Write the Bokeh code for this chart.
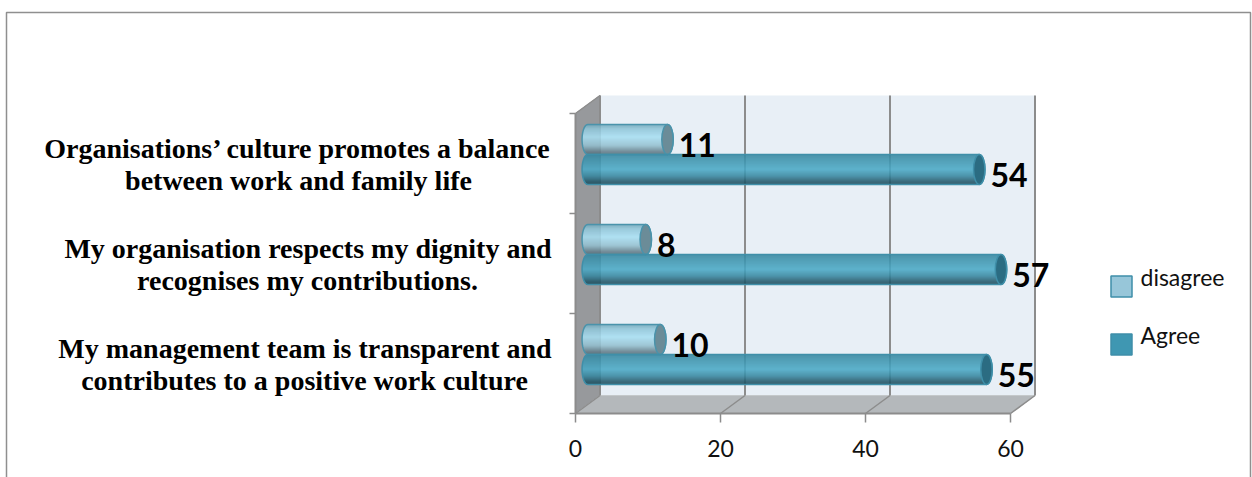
import numpy as np
from bokeh.core.properties import value
from bokeh.embed import file_html
from bokeh.models import FixedTicker, LinearAxis, Range1d
from bokeh.plotting import figure
from bokeh.resources import INLINE

# Statements from bottom to top, each split over its two printed lines
category_lines = [
    ["My management team is transparent and", "contributes to a positive work culture"],
    ["My organisation respects my dignity and", "recognises my contributions."],
    ["Organisations\u2019 culture promotes a balance", "between work and family life"],
]
label_centres = [(304.5, 304), (307.5, 307), (297.5, 298)]
agree = [55, 57, 54]
disagree = [10, 8, 11]
x_ticks = [0, 20, 40, 60]

W, H = 1252, 477
PX_PER_UNIT_X = 7.25
PX_PER_UNIT_Y = 100.0
ORIGIN_X, ORIGIN_Y = 575.0, 413.0
DEPTH_X = 24.5 / PX_PER_UNIT_X
DEPTH_Y = 18.0 / PX_PER_UNIT_Y


def dx(px):
    return (px - ORIGIN_X) / PX_PER_UNIT_X


def dy(py):
    return (ORIGIN_Y - py) / PX_PER_UNIT_Y


p = figure(
    width=W, height=H, output_backend="svg", toolbar_location=None,
    x_range=Range1d(dx(0), dx(W)), y_range=Range1d(dy(H), dy(0)),
    x_axis_type=None, y_axis_type=None, min_border=0,
)
p.grid.visible = False
p.outline_line_color = None
p.background_fill_color = "white"

# Outer frame of the chart area
p.line([dx(6), dx(6), dx(1250), dx(1250)], [dy(477), dy(12), dy(12), dy(477)],
       line_color="#8f8f8f", line_width=1.5)

# 3D box: back wall, side wall and floor
x_max, n_cat = x_ticks[-1], len(category_lines)
p.patch([DEPTH_X, x_max + DEPTH_X, x_max + DEPTH_X, DEPTH_X],
        [DEPTH_Y, DEPTH_Y, n_cat + DEPTH_Y, n_cat + DEPTH_Y], fill_color="#e8eff6", line_color=None)
p.patch([0, DEPTH_X, DEPTH_X, 0], [0, DEPTH_Y, n_cat + DEPTH_Y, n_cat],
        fill_color="#97999c", line_color="#a5a7a9", line_width=1)
p.patch([0, DEPTH_X, x_max + DEPTH_X, x_max], [0, DEPTH_Y, DEPTH_Y, 0],
        fill_color="#b4b8bb", line_color="#c4c8ca", line_width=1)

# Gridlines run up the back wall and across the floor
for t in x_ticks:
    p.line([t + DEPTH_X, t + DEPTH_X], [DEPTH_Y, n_cat + DEPTH_Y], line_color="#8c8c8c", line_width=2)
    p.line([t, t + DEPTH_X], [0, DEPTH_Y], line_color="#8c8c8c", line_width=1.5)
p.line([0, DEPTH_X], [n_cat, n_cat + DEPTH_Y], line_color="#8c8c8c", line_width=1.5)

x_axis = LinearAxis(fixed_location=0, ticker=FixedTicker(ticks=x_ticks), bounds=(0, x_max))
x_axis.axis_line_color = "#8c8c8c"
x_axis.axis_line_width = 2
x_axis.major_tick_line_color = "#8c8c8c"
x_axis.major_tick_line_width = 1.5
x_axis.major_tick_out = 9
x_axis.major_tick_in = 0
x_axis.minor_tick_line_color = None
x_axis.major_label_text_font = "Lato"
x_axis.major_label_text_font_size = "23px"
x_axis.major_label_text_color = "#111111"
x_axis.major_label_standoff = 17
p.add_layout(x_axis, "below")

# Category axis: a line along the front edge of the side wall with outward ticks
p.line([0, 0], [0, n_cat], line_color="#8c8c8c", line_width=2)
cat_edges = np.arange(n_cat + 1)
p.segment(x0=np.full(n_cat + 1, dx(ORIGIN_X - 6)), y0=cat_edges, x1=np.zeros(n_cat + 1), y1=cat_edges,
          line_color="#8c8c8c", line_width=1.5)


def shade(stops, t):
    """Colour at position t (0 top, 1 bottom) along a vertical shading ramp."""
    pos = [s[0] for s in stops]
    rgb = np.array([[int(s[1][i:i + 2], 16) for i in (1, 3, 5)] for s in stops], dtype=float)
    c = [np.interp(t, pos, rgb[:, k]) for k in range(3)]
    return "#%02x%02x%02x" % tuple(int(round(v)) for v in c)


AGREE_RAMP = [(0, "#35869f"), (0.18, "#3d93ad"), (0.5, "#4aa9c6"), (0.72, "#37879f"), (0.9, "#22596b"), (1, "#1d4a5a")]
DISAGREE_RAMP = [(0, "#6fa5b8"), (0.15, "#8fc5d8"), (0.42, "#a7def2"), (0.7, "#94c0d0"), (0.9, "#64808c"), (1, "#566f7a")]

BAR_H = 0.30
CAP_RX = 5.7 / PX_PER_UNIT_X
DEPTH_MID_X = DEPTH_X / 2
DEPTH_MID_Y = DEPTH_Y / 2
N_BANDS = 30


def cylinder(val, yc, ramp, cap_color, edge):
    x0 = DEPTH_MID_X
    x1 = DEPTH_MID_X + val
    band_h = BAR_H / N_BANDS
    for k in range(N_BANDS):
        t = (k + 0.5) / N_BANDS
        bulge = CAP_RX * np.sqrt(max(0.0, 1 - (2 * t - 1) ** 2))
        y = yc + BAR_H / 2 - t * BAR_H
        p.hbar(y=[y], height=band_h * 1.25, left=[x0 - bulge], right=[x1 + bulge],
               fill_color=shade(ramp, t), fill_alpha=1.0, line_color=None)
    a = np.linspace(-np.pi / 2, np.pi / 2, 24)
    ox = np.concatenate([x1 + CAP_RX * np.cos(a), x0 - CAP_RX * np.cos(a[::-1])])
    oy = np.concatenate([yc + BAR_H / 2 * np.sin(a), yc + BAR_H / 2 * np.sin(a[::-1])])
    p.patch(ox, oy, fill_color=None, line_color=edge, line_width=1.5)
    p.ellipse(x=[x1], y=[yc], width=2 * CAP_RX, height=BAR_H,
              fill_color=cap_color, fill_alpha=1.0, line_color=edge, line_width=1.5)


VALUE_FONT = value("Lato")
for i in range(n_cat):
    yc = i + 0.5 + DEPTH_MID_Y
    y_dis, y_agr = yc + BAR_H / 2, yc - BAR_H / 2
    cylinder(disagree[i], y_dis, DISAGREE_RAMP, "#6b8c98", "#4a93ab")
    cylinder(agree[i], y_agr, AGREE_RAMP, "#2b6c82", "#3f8fa9")

for i in range(n_cat):
    yc = i + 0.5 + DEPTH_MID_Y
    for val, y in ((disagree[i], yc + BAR_H / 2), (agree[i], yc - BAR_H / 2)):
        p.text(x=[DEPTH_MID_X + val + CAP_RX + 5.5 / PX_PER_UNIT_X], y=[y - 0.055], text=[str(val)],
               text_font=VALUE_FONT, text_font_style="bold", text_font_size="32px",
               text_color="black", text_align="left", text_baseline="middle")

    # Two-line statement to the left of the box
    line_top, line_bottom = category_lines[i]
    cx_top, cx_bottom = label_centres[i]
    p.text(x=[dx(cx_top)], y=[yc + 0.06], text=[line_top], text_font=value("Liberation Serif"),
           text_font_style="bold", text_font_size="28px", text_color="black",
           text_align="center", text_baseline="middle")
    p.text(x=[dx(cx_bottom)], y=[yc - 0.26], text=[line_bottom], text_font=value("Liberation Serif"),
           text_font_style="bold", text_font_size="28px", text_color="black",
           text_align="center", text_baseline="middle")

# Hand-placed legend, with each label sitting a little above its swatch
legend_items = ["disagree", "Agree"]
legend_colors = ["#97c6d9", "#3f97b2"]
legend_swatch_y = [286, 344]
legend_text_y = [276, 334.5]
for name, color, sy, ty in zip(legend_items, legend_colors, legend_swatch_y, legend_text_y):
    p.rect(x=[dx(1121)], y=[dy(sy)], width=21 / PX_PER_UNIT_X, height=21 / PX_PER_UNIT_Y,
           fill_color=color, line_color="#3f8fa9", line_width=1.5)
    p.text(x=[dx(1140)], y=[dy(ty)], text=[name], text_font=value("Lato"), text_font_size="23px",
           text_color="#111111", text_align="left", text_baseline="middle")

open("out.html", "w").write(file_html(p, INLINE))
